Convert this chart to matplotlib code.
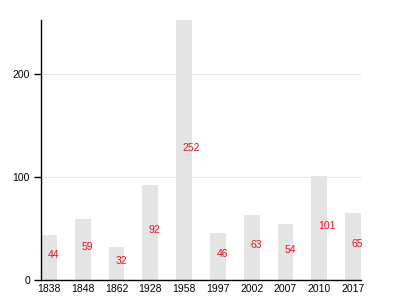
import matplotlib
matplotlib.use("Agg")
import matplotlib.pyplot as plt
import numpy as np

years = ["1838", "1848", "1862", "1928", "1958", "1997", "2002", "2007", "2010", "2017"]
values = [44, 59, 32, 92, 252, 46, 63, 54, 101, 65]

bar_color = "#e4e4e4"
label_color = "#ee1122"
grid_color = "#e6e6e6"

plt.rcParams["font.family"] = ["Liberation Sans", "DejaVu Sans"]

fig = plt.figure(figsize=(4, 3), dpi=100)
ax = fig.add_axes([0.1025, 0.0667, 0.8, 0.8667])

x = np.arange(len(years))
width = 0.47
ax.bar(x, values, width=width, align="edge", color=bar_color, zorder=2)

# value labels, roughly halfway up each bar
for xi, v in zip(x, values):
    ax.text(xi + width / 2 - 0.04, v / 2 + 2, str(v), ha="left", va="center",
            color=label_color, fontsize=7.5, zorder=3)

ax.set_xlim(0, len(years) - 1 + width)
ax.set_ylim(0, max(values))
ax.set_xticks(x + width / 2)
ax.set_xticklabels(years)
ax.set_yticks([0, 100, 200])
ax.tick_params(axis="x", length=0, labelsize=7.5, pad=3)
ax.tick_params(axis="y", length=5, width=1, labelsize=7.5, pad=3)

ax.yaxis.grid(True, color=grid_color, linewidth=0.8, zorder=0)
ax.set_axisbelow(True)
for side in ("top", "right"):
    ax.spines[side].set_visible(False)
ax.spines["left"].set_linewidth(1)
ax.spines["bottom"].set_linewidth(1)

fig.savefig("out.png", dpi=100)
